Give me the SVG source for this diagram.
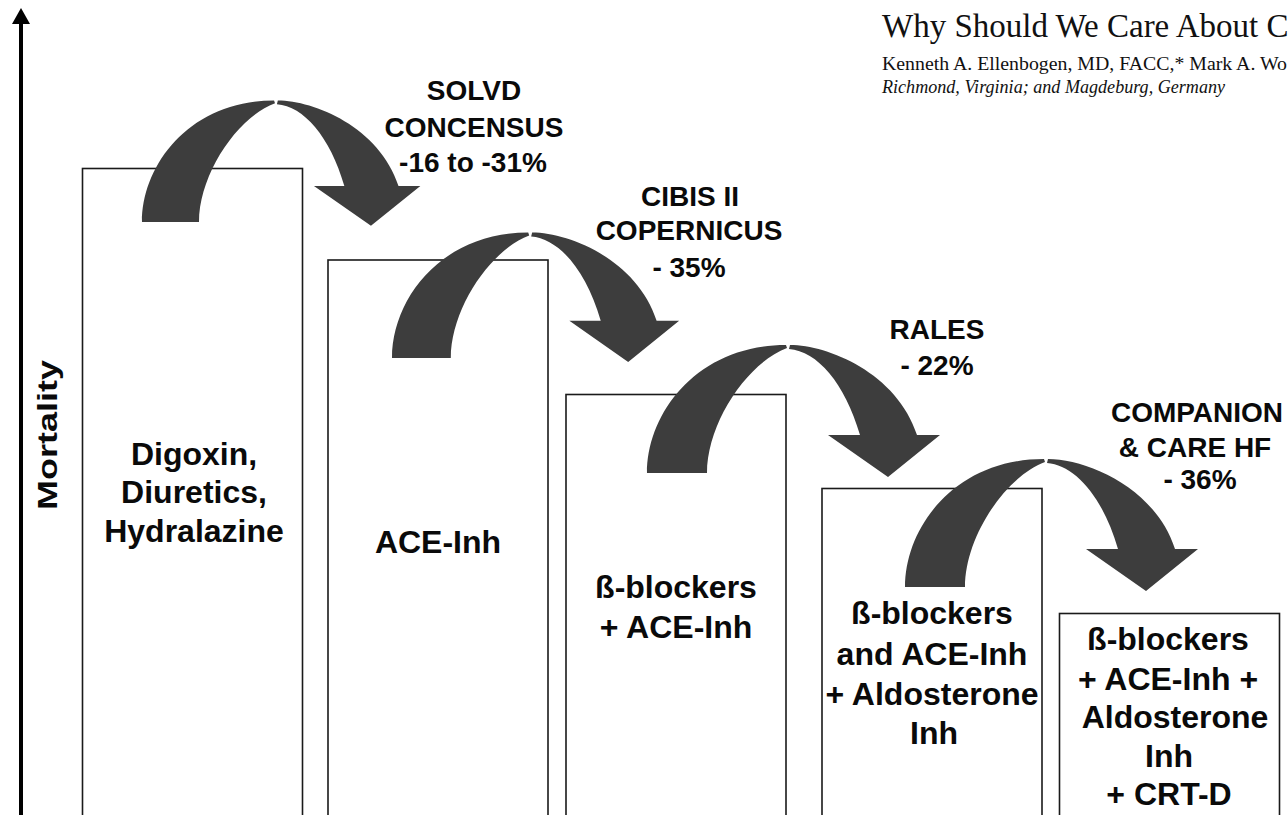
<svg xmlns="http://www.w3.org/2000/svg" width="1288" height="815" viewBox="0 0 1288 815">
  <style>
    .box { fill: #ffffff; stroke: #1a1a1a; stroke-width: 1.6; }
    .arr { fill: #3d3d3d; }
    .bt { font-family: "Liberation Sans", Arial, sans-serif; font-weight: bold; font-size: 32px; fill: #0a0a0a; text-anchor: middle; }
    .lt { font-family: "Liberation Sans", Arial, sans-serif; font-weight: bold; font-size: 28px; fill: #0a0a0a; text-anchor: middle; }
    .serif { font-family: "Liberation Serif", "Times New Roman", serif; fill: #111; }
  </style>
  <defs>
    <g id="curvedArrow">
      <path class="arr" d="M0,0 C0,-60 50,-128 139,-128 L140,-125 C100,-110 60,-50 60,0 Z"/>
      <path class="arr" d="M143,-128 C181,-128 250,-100 270,-38 L293,-38 L241,4 L181,-38 L213,-38 C198,-90 170,-122 142,-124 Z"/>
    </g>
  </defs>
  <rect x="0" y="0" width="1288" height="815" fill="#ffffff"/>

  <g id="header">
    <text class="serif" x="882" y="37" font-size="33">Why Should We Care About C</text>
    <text class="serif" x="882" y="70" font-size="18" textLength="405" lengthAdjust="spacingAndGlyphs">Kenneth A. Ellenbogen, MD, FACC,* Mark A. Wo</text>
    <text class="serif" x="882" y="93" font-size="18" font-style="italic" textLength="343" lengthAdjust="spacingAndGlyphs">Richmond, Virginia; and Magdeburg, Germany</text>
  </g>

  <g id="axis">
    <line x1="21" y1="815" x2="21" y2="20" stroke="#000" stroke-width="4"/>
    <polygon points="21,8 12,24 30,24" fill="#000"/>
    <text class="lt" font-size="36" transform="translate(57,435) rotate(-90)" textLength="150" lengthAdjust="spacingAndGlyphs">Mortality</text>
  </g>

  <g id="box1">
    <rect class="box" x="82.5" y="168.5" width="220" height="660"/>
    <text class="bt" x="194" y="465">Digoxin,</text>
    <text class="bt" x="194" y="503">Diuretics,</text>
    <text class="bt" x="194" y="542">Hydralazine</text>
  </g>
  <g id="box2">
    <rect class="box" x="328" y="260" width="220" height="570"/>
    <text class="bt" x="438" y="553">ACE-Inh</text>
  </g>
  <g id="box3">
    <rect class="box" x="566" y="394.5" width="220" height="440"/>
    <text class="bt" x="676" y="598">ß-blockers</text>
    <text class="bt" x="676" y="638">+ ACE-Inh</text>
  </g>
  <g id="box4">
    <rect class="box" x="822" y="488.5" width="220" height="340"/>
    <text class="bt" x="932" y="624">ß-blockers</text>
    <text class="bt" x="932" y="665">and ACE-Inh</text>
    <text class="bt" x="932" y="705">+ Aldosterone</text>
    <text class="bt" x="934" y="744">Inh</text>
  </g>
  <g id="box5">
    <rect class="box" x="1059.5" y="613.5" width="220" height="220"/>
    <text class="bt" x="1168" y="650">ß-blockers</text>
    <text class="bt" x="1168" y="690">+ ACE-Inh +</text>
    <text class="bt" x="1175" y="728">Aldosterone</text>
    <text class="bt" x="1169" y="767">Inh</text>
    <text class="bt" x="1169" y="805">+ CRT-D</text>
  </g>

  <g id="connectors">
    <use href="#curvedArrow" transform="translate(142,222) scale(0.95)"/>
    <use href="#curvedArrow" transform="translate(392,358) scale(0.98)"/>
    <use href="#curvedArrow" transform="translate(647,473)"/>
    <use href="#curvedArrow" transform="translate(905,587)"/>
  </g>

  <g id="labels">
    <text class="lt" x="474" y="100">SOLVD</text>
    <text class="lt" x="474" y="137">CONCENSUS</text>
    <text class="lt" x="473" y="172">-16 to -31%</text>
    <text class="lt" x="690" y="206">CIBIS II</text>
    <text class="lt" x="689" y="240">COPERNICUS</text>
    <text class="lt" x="689" y="277">- 35%</text>
    <text class="lt" x="937" y="339">RALES</text>
    <text class="lt" x="937" y="375">- 22%</text>
    <text class="lt" x="1197" y="422">COMPANION</text>
    <text class="lt" x="1195" y="457">&amp; CARE HF</text>
    <text class="lt" x="1200" y="489">- 36%</text>
  </g>
</svg>
